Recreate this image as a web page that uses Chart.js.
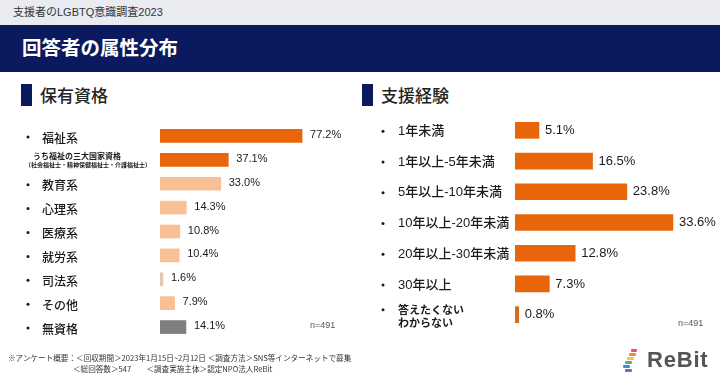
<!DOCTYPE html>
<html lang="ja">
<head>
<meta charset="utf-8">
<script src="https://cdn.jsdelivr.net/npm/chart.js@4/dist/chart.umd.min.js"></script>
<style>
  html, body { margin:0; padding:0; background:#fff; }
  body { width:720px; height:378px; position:relative; overflow:hidden;
         font-family:"Liberation Sans","Noto Sans CJK JP",sans-serif; }
  #topstrip { position:absolute; left:0; top:0; width:720px; height:25px; background:#e9ebf1; }
  #toptext { position:absolute; left:13px; top:4px; font-size:11px; color:#333; line-height:17px; }
  #band { position:absolute; left:0; top:25px; width:720px; height:47px; background:#0b1a5e; }
  #bandtitle { position:absolute; left:22px; top:34px; font-size:19.5px; font-weight:bold; color:#fff; line-height:28px; letter-spacing:0px; }
  .marker { position:absolute; width:11px; height:22px; background:#0b1a5e; top:84px; }
  .sect { position:absolute; top:83px; font-size:17px; font-weight:500; color:#222; line-height:24px; font-family:"Noto Sans CJK JP",sans-serif; }
  canvas { position:absolute; top:0; }
  .n { position:absolute; font-size:9px; color:#555; }
  .foot { position:absolute; font-size:7.6px; color:#333; line-height:11px; font-family:"Noto Sans CJK JP",sans-serif; white-space:pre; }
  #logo { position:absolute; left:622px; top:345px; width:98px; height:30px; }
  .st { position:absolute; height:3px; border-radius:1px; }
  #logotext { position:absolute; left:25px; top:0px; font-size:22px; font-weight:bold; color:#555; font-family:"Liberation Sans",sans-serif; line-height:30px; letter-spacing:0.8px; }
</style>
</head>
<body>
<div id="topstrip"></div>
<div id="toptext">支援者のLGBTQ意識調査2023</div>
<div id="band"></div>
<div id="bandtitle">回答者の属性分布</div>
<div class="marker" style="left:21px"></div>
<div class="sect" style="left:40px">保有資格</div>
<div class="marker" style="left:362px"></div>
<div class="sect" style="left:381px">支援経験</div>

<canvas id="left" width="360" height="378" style="left:0"></canvas>
<canvas id="right" width="360" height="378" style="left:360px"></canvas>

<div class="n" style="left:310px; top:320px">n=491</div>
<div class="n" style="left:678px; top:318px">n=491</div>

<div class="foot" style="left:8px; top:352px">※アンケート概要：＜回収期間＞2023年1月15日~2月12日 ＜調査方法＞SNS等インターネットで募集</div>
<div class="foot" style="left:73px; top:363px">＜総回答数＞547　　＜調査実施主体＞認定NPO法人ReBit</div>

<div id="logo">
  <div class="st" style="left:9px; top:4px; width:6px; background:#e8506a"></div>
  <div class="st" style="left:7px; top:8px; width:7px; background:#f08a3c"></div>
  <div class="st" style="left:5px; top:12px; width:7px; background:#f5c542"></div>
  <div class="st" style="left:3px; top:16px; width:7px; background:#4fb37a"></div>
  <div class="st" style="left:1px; top:20px; width:7px; background:#3f8fd0"></div>
  <div class="st" style="left:3px; top:24px; width:7px; background:#8a5cc0"></div>
  <div id="logotext">ReBit</div>
</div>

<script>
// ---------- DATA ----------
const leftCategories = [
  '福祉系',
  ['うち福祉の三大国家資格', '（社会福祉士・精神保健福祉士・介護福祉士）'],
  '教育系', '心理系', '医療系', '就労系', '司法系', 'その他', '無資格'
];
const leftValues = [77.2, 37.1, 33.0, 14.3, 10.8, 10.4, 1.6, 7.9, 14.1];
const leftValueLabels = ['77.2%', '37.1%', '33.0%', '14.3%', '10.8%', '10.4%', '1.6%', '7.9%', '14.1%'];

const rightCategories = [
  '1年未満', '1年以上-5年未満', '5年以上-10年未満', '10年以上-20年未満',
  '20年以上-30年未満', '30年以上', ['答えたくない', 'わからない']
];
const rightValues = [5.1, 16.5, 23.8, 33.6, 12.8, 7.3, 0.8];
const rightValueLabels = ['5.1%', '16.5%', '23.8%', '33.6%', '12.8%', '7.3%', '0.8%'];

// ---------- STYLES ----------
const DARK = '#e8650c', LIGHT = '#f9bf95', GREY = '#7f7f7f', TAN = '#e9c4a6';
const leftColors = [DARK, DARK, LIGHT, LIGHT, LIGHT, LIGHT, TAN, LIGHT, GREY];
const rightColors = rightValues.map((_, i) => i === rightValues.length - 1 ? '#d9691e' : DARK);
const JP = '"Noto Sans CJK JP", sans-serif';
const LAT = '"Liberation Sans", "Noto Sans CJK JP", sans-serif';

function labelPlugin(cfg) {
  return {
    id: 'labels_' + cfg.id,
    afterDatasetsDraw(chart) {
      const ctx = chart.ctx;
      const meta = chart.getDatasetMeta(0);
      const yScale = chart.scales.y;
      ctx.save();
      ctx.textBaseline = 'middle';
      meta.data.forEach((bar, i) => {
        ctx.fillStyle = '#1a1a1a';
        ctx.textAlign = 'left';
        ctx.font = cfg.valueFont;
        ctx.fillText(cfg.valueLabels[i], bar.x + cfg.valueGap, bar.y + cfg.valueDy);
        const y = yScale.getPixelForValue(i);
        const lab = cfg.categories[i];
        ctx.fillStyle = '#1a1a1a';
        if (Array.isArray(lab)) {
          cfg.drawMulti(ctx, lab, y);
        } else {
          ctx.beginPath();
          ctx.arc(cfg.bulletX, y + 1, 1.5, 0, Math.PI * 2);
          ctx.fill();
          ctx.font = cfg.catFont;
          ctx.fillText(lab, cfg.textX, y + cfg.catDy);
        }
      });
      ctx.restore();
    }
  };
}

function makeChart(id, cats, vals, colors, thickness, pad, max, plug) {
  return new Chart(document.getElementById(id), {
    type: 'bar',
    data: {
      labels: cats.map(c => Array.isArray(c) ? c.join(' ') : c),
      datasets: [{ data: vals, backgroundColor: colors, barThickness: thickness, borderWidth: 0 }]
    },
    options: {
      indexAxis: 'y',
      responsive: false,
      animation: false,
      devicePixelRatio: 1,
      layout: { padding: pad },
      plugins: { legend: { display: false }, tooltip: { enabled: false } },
      scales: {
        x: { display: false, min: 0, max: max },
        y: { display: false }
      }
    },
    plugins: [plug]
  });
}

makeChart('left', leftCategories, leftValues, leftColors, 13,
  { left: 160, right: 16, top: 124, bottom: 39 }, 100,
  labelPlugin({
    id: 'l', categories: leftCategories, valueLabels: leftValueLabels,
    valueFont: '11px ' + LAT, valueGap: 8, valueDy: -1,
    catFont: '500 12px ' + JP, bulletX: 28, textX: 42, catDy: 2,
    drawMulti(ctx, lab, y) {
      ctx.font = 'bold 8px ' + JP;
      ctx.fillText(lab[0], 33, y - 4);
      ctx.font = 'bold 6px ' + JP;
      ctx.fillText(lab[1], 25, y + 5);
    }
  }));

makeChart('right', rightCategories, rightValues, rightColors, 16,
  { left: 155, right: 17, top: 115, bottom: 48 }, 40,
  labelPlugin({
    id: 'r', categories: rightCategories, valueLabels: rightValueLabels,
    valueFont: '13px ' + LAT, valueGap: 6, valueDy: 0,
    catFont: '500 13px ' + LAT, bulletX: 23, textX: 38, catDy: 1,
    drawMulti(ctx, lab, y) {
      ctx.beginPath();
      ctx.arc(23, y - 5, 1.5, 0, Math.PI * 2);
      ctx.fill();
      ctx.font = 'bold 11px ' + JP;
      ctx.fillText(lab[0], 38, y - 5);
      ctx.fillText(lab[1], 38, y + 8);
    }
  }));
</script>
</body>
</html>
